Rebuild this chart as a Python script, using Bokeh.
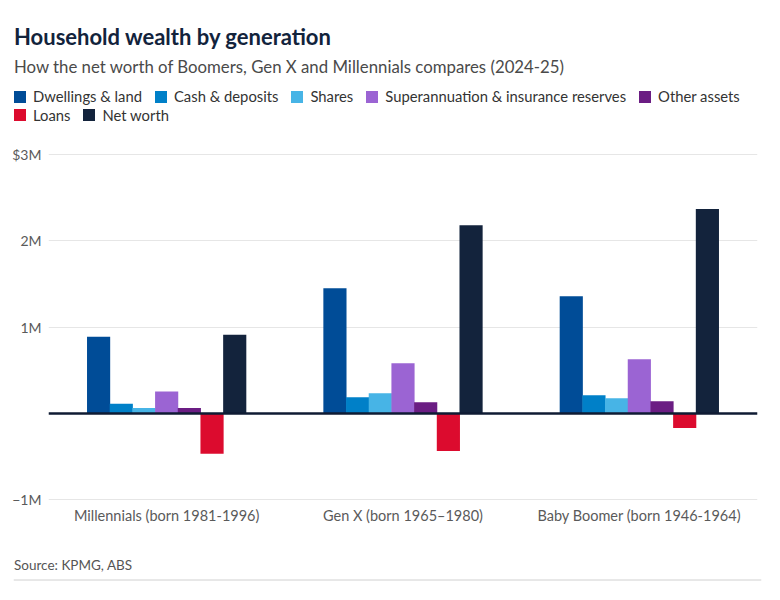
from bokeh.plotting import figure
from bokeh.models import (ColumnDataSource, FactorRange, Range1d, Legend, LegendItem,
                          Label, Span, FixedTicker)
from bokeh.layouts import column
from bokeh.transform import dodge
from bokeh.embed import file_html
from bokeh.resources import INLINE

# ---------------- data (values in $ millions) ----------------
generations = ["Millennials (born 1981-1996)", "Gen X (born 1965\u20131980)", "Baby Boomer (born 1946-1964)"]
series_names = ["Dwellings & land", "Cash & deposits", "Shares",
                "Superannuation & insurance reserves", "Other assets", "Loans", "Net worth"]
series_colors = ["#004c97", "#0080c8", "#47b4e6", "#9b64d3", "#6b1d83", "#dc0b2e", "#13233c"]

dwellings_land = [0.89, 1.452, 1.36]
cash_deposits = [0.113, 0.189, 0.212]
shares = [0.066, 0.235, 0.177]
superannuation = [0.255, 0.583, 0.63]
other_assets = [0.066, 0.131, 0.143]
loans = [-0.464, -0.433, -0.166]
net_worth = [0.913, 2.183, 2.37]

y_ticks = [-1, 0, 1, 2, 3]
y_tick_labels = ["\u22121M", "", "1M", "2M", "$3M"]

title_text = "Household wealth by generation"
subtitle_text = "How the net worth of Boomers, Gen X and Millennials compares (2024-25)"
source_text = "Source: KPMG, ABS"

FONT = "Lato"
W = 772


def bare(fig):
    fig.title.visible = False
    fig.outline_line_color = None
    fig.xgrid.grid_line_color = None
    fig.ygrid.grid_line_color = None
    fig.background_fill_color = "white"
    fig.border_fill_color = "white"
    try:
        fig.frame_align = False
    except Exception:
        pass
    return fig


# ---------------- header: title, subtitle, legend ----------------
HH = 141
head = figure(width=W, height=HH, x_range=Range1d(0, W), y_range=Range1d(HH, 0),
              x_axis_type=None, y_axis_type=None, output_backend="svg", toolbar_location=None,
              min_border_left=0, min_border_right=0, min_border_top=0, min_border_bottom=0)
bare(head)

head.add_layout(Label(x=13.5, y=36, text=title_text, text_font=FONT, text_font_size="22px",
                      text_font_style="bold", text_color="#12233c",
                      text_baseline="alphabetic", text_align="left"))
head.add_layout(Label(x=13.5, y=66, text=subtitle_text, text_font=FONT, text_font_size="16.8px",
                      text_color="#4a4a4a", text_baseline="alphabetic", text_align="left"))

# legend handles (hidden renderers, only their legend swatches are shown)
swatches = []
for color in series_colors:
    swatches.append(head.vbar(x=[0], top=[0], width=0, fill_color=color, line_color=None,
                              visible=False))


def make_legend(idx, loc):
    items = [LegendItem(label=series_names[i], renderers=[swatches[i]]) for i in idx]
    return Legend(items=items, orientation="horizontal", location=loc,
                  glyph_width=15, glyph_height=15, label_height=15, label_standoff=6,
                  spacing=11, padding=0, margin=0, border_line_color=None,
                  background_fill_alpha=0, inactive_fill_alpha=0, label_text_font=FONT,
                  label_text_font_size="14.8px", label_text_color="#333333")


head.add_layout(make_legend([0, 1, 2, 3, 4], (12, 36)))
head.add_layout(make_legend([5, 6], (12, 17.5)))

# ---------------- main chart ----------------
src = ColumnDataSource(dict(gen=generations, dwellings=dwellings_land, cash=cash_deposits,
                            shares=shares, super=superannuation, other=other_assets,
                            loans=loans, net=net_worth))
columns = ["dwellings", "cash", "shares", "super", "other", "loans", "net"]

p = figure(x_range=FactorRange(factors=generations, range_padding=0),
           y_range=Range1d(-1.0185, 3.037),
           width=W, height=389, output_backend="svg", toolbar_location=None,
           min_border_left=48, min_border_right=15, min_border_top=10, min_border_bottom=29)
p.title.visible = False
p.outline_line_color = None
p.background_fill_color = "white"
p.border_fill_color = "white"
try:
    p.frame_align = False
except Exception:
    pass

step = 0.096
bar_w = 0.098
for i, (col, color) in enumerate(zip(columns, series_colors)):
    p.vbar(x=dodge("gen", (i - 3) * step, range=p.x_range), top=col, width=bar_w,
           source=src, fill_color=color, line_color=None)

p.add_layout(Span(location=0, dimension="width", line_color="#0f1b33", line_width=2.5))

p.xgrid.grid_line_color = None
p.ygrid.grid_line_color = "#e6e6e6"
p.ygrid.grid_line_width = 1.2
p.yaxis.ticker = FixedTicker(ticks=y_ticks)
p.yaxis.major_label_overrides = {t: l for t, l in zip(y_ticks, y_tick_labels)}
for ax in (p.xaxis, p.yaxis):
    ax.axis_line_color = None
    ax.major_tick_line_color = None
    ax.minor_tick_line_color = None
    ax.major_tick_out = 0
    ax.major_tick_in = 0
    ax.major_label_text_font = FONT
    ax.major_label_text_color = "#5a5a5a"
p.yaxis.major_label_text_font_size = "14px"
p.xaxis.major_label_text_font_size = "14.5px"
p.yaxis.major_label_standoff = 7
p.xaxis.major_label_standoff = 5

# ---------------- footer: source + rule ----------------
FH = 51
foot = figure(width=W, height=FH, x_range=Range1d(0, 748), y_range=Range1d(FH, 0),
              x_axis_type=None, y_axis_type=None, output_backend="svg", toolbar_location=None,
              min_border_left=13, min_border_right=11, min_border_top=0, min_border_bottom=0)
bare(foot)
foot.add_layout(Label(x=0.5, y=34, text=source_text, text_font=FONT, text_font_size="13.5px",
                      text_color="#555555", text_baseline="alphabetic", text_align="left"))
foot.add_layout(Span(location=49.5, dimension="width", line_color="#d0d0d0", line_width=1))

layout = column(head, p, foot)
open("out.html", "w").write(file_html(layout, INLINE))
